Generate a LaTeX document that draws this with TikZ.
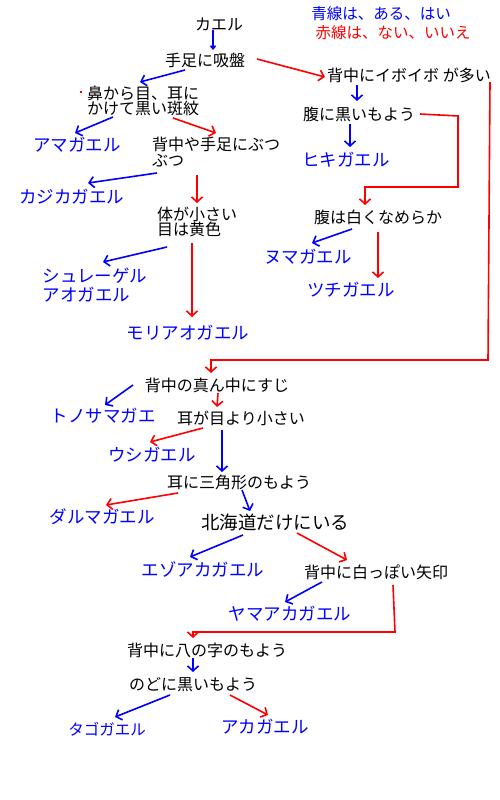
\documentclass[tikz,border=0pt]{standalone}
\usepackage{fontspec}
\setmainfont{Noto Sans CJK JP}
\usetikzlibrary{arrows.meta}
\begin{document}
\begin{tikzpicture}[x=1pt,y=-1pt,
  q/.style={inner sep=0pt, font=\fontsize{16}{15.5}\selectfont, text=black, align=left},
  ans/.style={inner sep=0pt, font=\fontsize{17.5}{19}\selectfont, text=blue, align=left},
  leg/.style={inner sep=0pt, font=\fontsize{15.5}{16}\selectfont},
  yes/.style={draw=blue, line width=1.6pt, -{Straight Barb[length=5pt,width=11pt]}},
  no/.style={draw=red, line width=1.6pt, -{Straight Barb[length=5pt,width=11pt]}}]
\useasboundingbox[fill=white] (0,0) rectangle (500,800);
% legend
\node[leg, text=blue] (leg1) at (381,14) {青線は、ある、はい};
\node[leg, text=red] (leg2) at (393,33) {赤線は、ない、いいえ};
% questions
\node[q] (kaeru) at (219,24) {カエル};
\node[q] (kyuban) at (205,60) {手足に吸盤};
\node[q] (hana) at (143,101) {鼻から目、耳に\\かけて黒い斑紋};
\node[q] (butsu) at (216,152) {背中や手足にぶつ\\ぶつ};
\node[q] (karada) at (197,222) {体が小さい\\目は黄色};
\node[q] (ibo) at (409,75) {背中にイボイボ が多い};
\node[q] (harakuro) at (359,114) {腹に黒いもよう};
\node[q] (harashiro) at (378,217) {腹は白くなめらか};
\node[q] (sujimid) at (217,385) {背中の真ん中にすじ};
\node[q] (mimi) at (241,418) {耳が目より小さい};
\node[q] (sankaku) at (239,482) {耳に三角形のもよう};
\node[q, font=\fontsize{18.5}{19}\selectfont] (hokkai) at (275,522) {北海道だけにいる};
\node[q] (yajirushi) at (376,572) {背中に白っぽい矢印};
\node[q] (hachi) at (207,650) {背中に八の字のもよう};
\node[q] (nodo) at (193,685) {のどに黒いもよう};
% answers
\node[ans] (amaga) at (77,145) {アマガエル};
\node[ans] (kajika) at (72,197) {カジカガエル};
\node[ans] (schl) at (95,285) {シュレーゲル\\アオガエル};
\node[ans] (moria) at (188,333) {モリアオガエル};
\node[ans] (hiki) at (346,160) {ヒキガエル};
\node[ans] (numa) at (308,257) {ヌマガエル};
\node[ans] (tsuchi) at (351,290) {ツチガエル};
\node[ans] (tono) at (103,416) {トノサマガエ};
\node[ans] (ushi) at (152,455) {ウシガエル};
\node[ans] (daruma) at (102,517) {ダルマガエル};
\node[ans] (ezo) at (203,569) {エゾアカガエル};
\node[ans] (yama) at (290,614) {ヤマアカガエル};
\node[ans, font=\fontsize{15.5}{16}\selectfont] (tago) at (107,729) {タゴガエル};
\node[ans] (akaga) at (265,727) {アカガエル};
% stray red dot
\fill[red] (80,91) rectangle (82,93);
% connectors
\draw[yes, -{Straight Barb[length=3pt,width=5pt]}] ([shift={(-6,6)}]kaeru.center) -- ([shift={(8,-10)}]kyuban.center);
\draw[yes] ([shift={(-20,10)}]kyuban.center) -- ([shift={(-3,-19)}]hana.center);
\draw[no] ([shift={(52,-1)}]kyuban.center) -- ([shift={(-84,2)}]ibo.center);
\draw[yes] ([shift={(-30,16)}]hana.center) -- ([shift={(-2,-12)}]amaga.center);
\draw[no] ([shift={(30,17)}]hana.center) -- ([shift={(0,-19)}]butsu.center);
\draw[yes] ([shift={(-52,10)}]ibo.center) -- ([shift={(-2,-13)}]harakuro.center);
\draw[yes] ([shift={(-9,10)}]harakuro.center) -- ([shift={(4,-13)}]hiki.center);
\draw[no] ([shift={(61,0)}]harakuro.center) -- ++(38,2) -- ++(0,71) -- ++(-93,0) -- ([shift={(-13,-12)}]harashiro.center);
\draw[no] ([shift={(81,7)}]ibo.center) -- ++(-2,278) -- ++(-277,0) -- ([shift={(-6,-12)}]sujimid.center);
\draw[yes] ([shift={(-59,21)}]butsu.center) -- ([shift={(16,-14)}]kajika.center);
\draw[no] ([shift={(-19,23)}]butsu.center) -- ([shift={(0,-19)}]karada.center);
\draw[yes] ([shift={(-30,25)}]karada.center) -- ([shift={(8,-23)}]schl.center);
\draw[no] ([shift={(-5,21)}]karada.center) -- ([shift={(4,-16)}]moria.center);
\draw[yes] ([shift={(-26,12)}]harashiro.center) -- ([shift={(4,-14)}]numa.center);
\draw[no] ([shift={(0,15)}]harashiro.center) -- ([shift={(27,-12)}]tsuchi.center);
\draw[yes] ([shift={(-84,0)}]sujimid.center) -- ([shift={(2,-11)}]tono.center);
\draw[no] ([shift={(1,8)}]sujimid.center) -- ([shift={(-24,-11)}]mimi.center);
\draw[no] ([shift={(-38,10)}]mimi.center) -- ([shift={(-2,-13)}]ushi.center);
\draw[yes] ([shift={(-19,12)}]mimi.center) -- ([shift={(-17,-10)}]sankaku.center);
\draw[no] ([shift={(-61,11)}]sankaku.center) -- ([shift={(4,-12)}]daruma.center);
\draw[yes] ([shift={(3,8)}]sankaku.center) -- ([shift={(-25,-11)}]hokkai.center);
\draw[yes] ([shift={(-32,13)}]hokkai.center) -- ([shift={(-13,-12)}]ezo.center);
\draw[no] ([shift={(22,11)}]hokkai.center) -- ([shift={(-29,-12)}]yajirushi.center);
\draw[yes] ([shift={(-54,10)}]yajirushi.center) -- ([shift={(-5,-12)}]yama.center);
\draw[no] ([shift={(17,13)}]yajirushi.center) -- ++(2,47) -- ++(-202,0) -- ([shift={(-14,-12)}]hachi.center);
\draw[yes] ([shift={(-14,8)}]hachi.center) -- ([shift={(0,-13)}]nodo.center);
\draw[yes] ([shift={(-23,10)}]nodo.center) -- ([shift={(8,-12)}]tago.center);
\draw[no] ([shift={(37,10)}]nodo.center) -- ([shift={(3,-12)}]akaga.center);
\end{tikzpicture}
\end{document}
